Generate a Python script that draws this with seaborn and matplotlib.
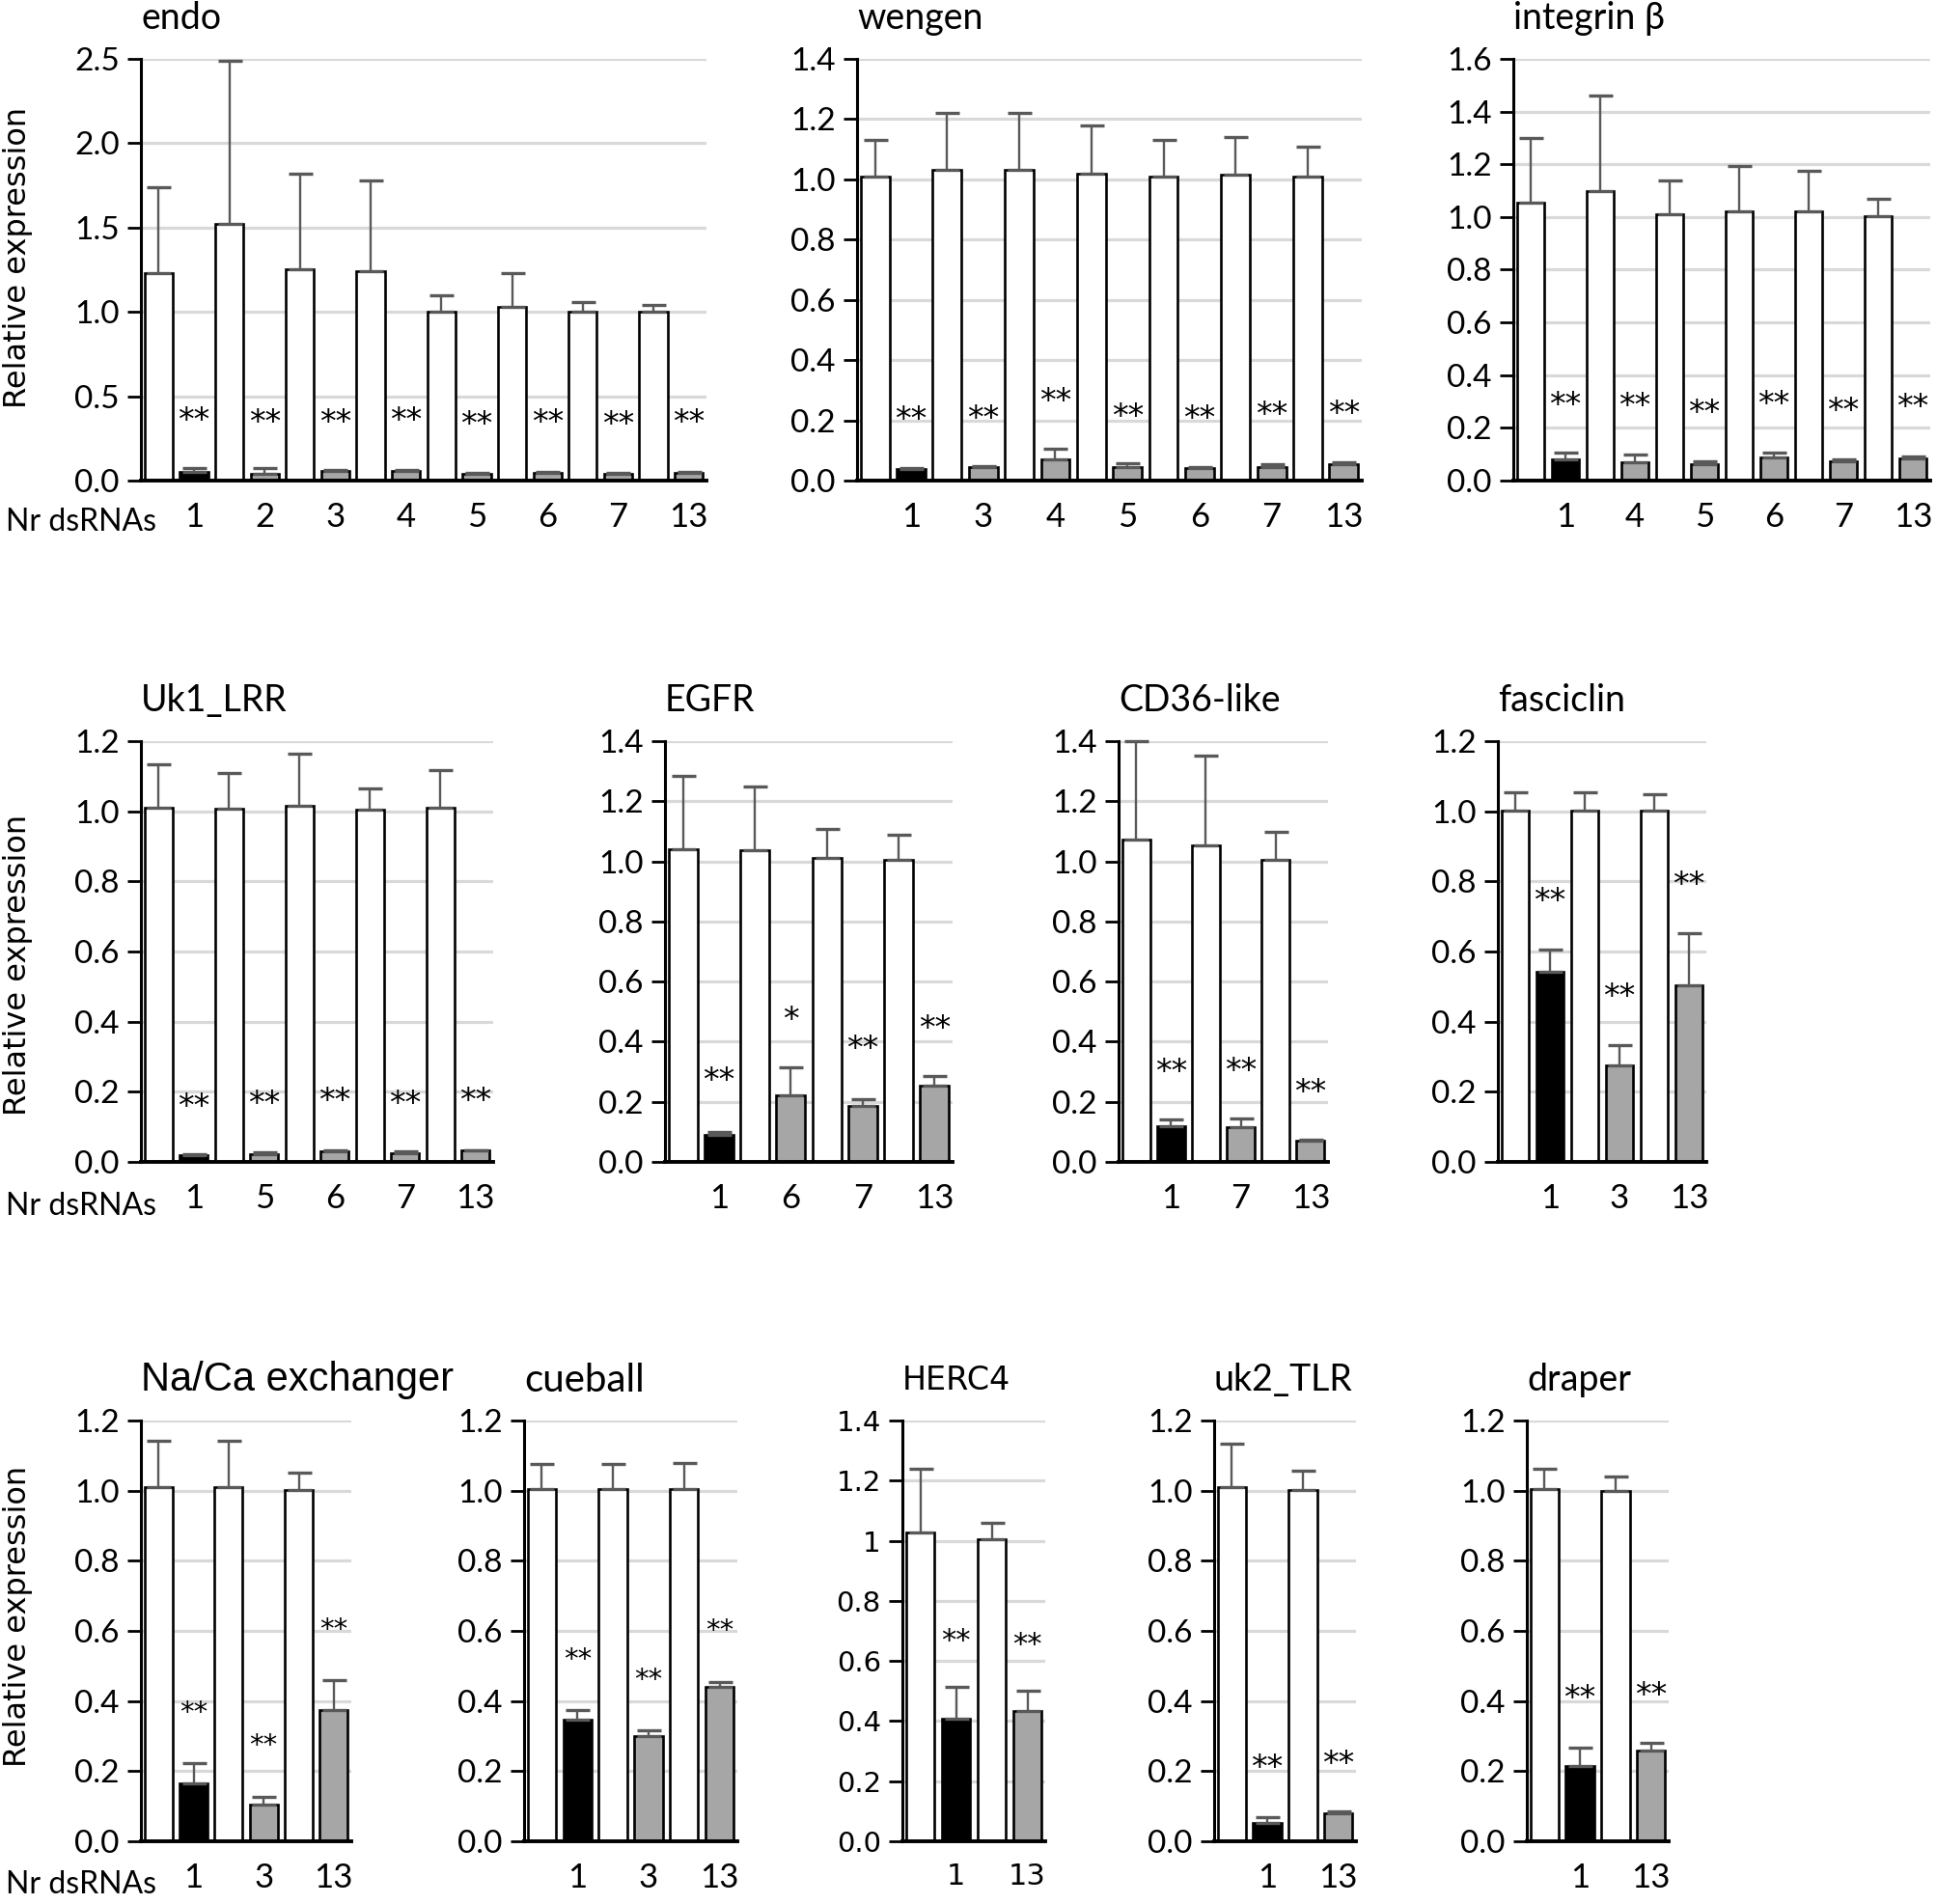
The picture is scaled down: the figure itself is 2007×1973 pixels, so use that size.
import numpy as np
import pandas as pd
import matplotlib
matplotlib.use("Agg")
import matplotlib.pyplot as plt
import seaborn as sns
from matplotlib import font_manager

# ---- data ----
endo_labels = ["1", "2", "3", "4", "5", "6", "7", "13"]
endo_ctrl = [1.23, 1.52, 1.25, 1.24, 1.00, 1.03, 1.00, 1.00]
endo_ctrl_sd = [0.51, 0.97, 0.57, 0.54, 0.10, 0.20, 0.06, 0.04]
endo_trt = [0.05, 0.04, 0.055, 0.055, 0.04, 0.045, 0.04, 0.045]
endo_trt_sd = [0.025, 0.035, 0.01, 0.01, 0.005, 0.005, 0.003, 0.005]
endo_star_y = [0.35, 0.34, 0.34, 0.35, 0.33, 0.34, 0.33, 0.34]

wengen_labels = ["1", "3", "4", "5", "6", "7", "13"]
wengen_ctrl = [1.01, 1.03, 1.03, 1.02, 1.01, 1.015, 1.01]
wengen_ctrl_sd = [0.12, 0.19, 0.19, 0.16, 0.12, 0.125, 0.10]
wengen_trt = [0.037, 0.044, 0.071, 0.045, 0.043, 0.046, 0.054]
wengen_trt_sd = [0.006, 0.004, 0.034, 0.012, 0.002, 0.008, 0.007]
wengen_star_y = [0.20, 0.205, 0.26, 0.21, 0.205, 0.215, 0.22]

integrin_labels = ["1", "4", "5", "6", "7", "13"]
integrin_ctrl = [1.055, 1.10, 1.01, 1.02, 1.02, 1.005]
integrin_ctrl_sd = [0.245, 0.36, 0.13, 0.175, 0.155, 0.065]
integrin_trt = [0.082, 0.068, 0.063, 0.089, 0.072, 0.086]
integrin_trt_sd = [0.024, 0.03, 0.009, 0.017, 0.01, 0.007]
integrin_star_y = [0.285, 0.28, 0.256, 0.286, 0.262, 0.275]

uk1_labels = ["1", "5", "6", "7", "13"]
uk1_ctrl = [1.01, 1.007, 1.015, 1.004, 1.01]
uk1_ctrl_sd = [0.125, 0.103, 0.15, 0.06, 0.108]
uk1_trt = [0.018, 0.022, 0.029, 0.025, 0.032]
uk1_trt_sd = [0.005, 0.005, 0.004, 0.005, 0.002]
uk1_star_y = [0.156, 0.164, 0.171, 0.164, 0.171]

egfr_labels = ["1", "6", "7", "13"]
egfr_ctrl = [1.04, 1.036, 1.01, 1.006]
egfr_ctrl_sd = [0.246, 0.213, 0.097, 0.083]
egfr_trt = [0.089, 0.223, 0.186, 0.254]
egfr_trt_sd = [0.012, 0.091, 0.024, 0.032]
egfr_stars = ["**", "*", "**", "**"]
egfr_star_y = [0.268, 0.472, 0.373, 0.443]

cd36_labels = ["1", "7", "13"]
cd36_ctrl = [1.074, 1.054, 1.005]
cd36_ctrl_sd = [0.326, 0.299, 0.094]
cd36_trt = [0.1185, 0.117, 0.07]
cd36_trt_sd = [0.024, 0.026, 0.004]
cd36_star_y = [0.296, 0.299, 0.231]

fasc_labels = ["1", "3", "13"]
fasc_ctrl = [1.002, 1.002, 1.002]
fasc_ctrl_sd = [0.053, 0.053, 0.046]
fasc_trt = [0.542, 0.275, 0.504]
fasc_trt_sd = [0.064, 0.057, 0.149]
fasc_star_y = [0.743, 0.468, 0.788]

naca_labels = ["1", "3", "13"]
naca_ctrl = [1.011, 1.011, 1.003]
naca_ctrl_sd = [0.13, 0.13, 0.048]
naca_trt = [0.165, 0.104, 0.375]
naca_trt_sd = [0.058, 0.023, 0.085]
naca_star_y = [0.366, 0.272, 0.604]

cue_labels = ["1", "3", "13"]
cue_ctrl = [1.005, 1.005, 1.005]
cue_ctrl_sd = [0.071, 0.071, 0.074]
cue_trt = [0.347, 0.301, 0.439]
cue_trt_sd = [0.026, 0.016, 0.015]
cue_star_y = [0.517, 0.46, 0.60]

herc_labels = ["1", "13"]
herc_ctrl = [1.028, 1.004]
herc_ctrl_sd = [0.211, 0.057]
herc_trt = [0.4085, 0.434]
herc_trt_sd = [0.104, 0.067]
herc_star_y = [0.665, 0.652]
herc_yticklabels = ["0.0", "0.2", "0.4", "0.6", "0.8", "1", "1.2", "1.4"]

uk2_labels = ["1", "13"]
uk2_ctrl = [1.009, 1.002]
uk2_ctrl_sd = [0.125, 0.056]
uk2_trt = [0.052, 0.079]
uk2_trt_sd = [0.018, 0.007]
uk2_star_y = [0.209, 0.219]

draper_labels = ["1", "13"]
draper_ctrl = [1.005, 1.0]
draper_ctrl_sd = [0.058, 0.041]
draper_trt = [0.214, 0.258]
draper_trt_sd = [0.054, 0.024]
draper_star_y = [0.407, 0.415]

# ---- figure setup ----
W, H = 2007, 1973
sns.set_theme(style="white")
names = {f.name for f in font_manager.fontManager.ttflist}
MAIN = "Lato" if "Lato" in names else "Liberation Sans"
plt.rcParams["font.family"] = [MAIN, "DejaVu Sans"]

fig = plt.figure(figsize=(W / 100, H / 100), dpi=100)
fig.patch.set_facecolor("white")

WHITE, BLACK, GREY = "#FFFFFF", "#000000", "#A6A6A6"
ERR = "#595959"
GRIDC = "#D9D9D9"


def fx(px):
    return px / W


def fy(px):
    return 1 - px / H


def panel(title, x0, x1, top, zero, ymax, step, labels, ctrl, ctrl_sd, trt, trt_sd,
          star_y, stars=None, title_font=None, title_size=27, tick_font=None,
          tick_size=24, ylabels=None, star_size=24):
    ax = fig.add_axes([fx(x0), fy(zero), fx(x1 - x0), (zero - top) / H])
    n = len(labels)
    order, vals, sds, pal = [], [], [], {}
    for i in range(n):
        for kind, v, s in (("c", ctrl[i], ctrl_sd[i]), ("t", trt[i], trt_sd[i])):
            key = f"{kind}{i}"
            order.append(key)
            vals.append(v)
            sds.append(s)
            if kind == "c":
                pal[key] = WHITE
            else:
                pal[key] = BLACK if i == 0 else GREY
    df = pd.DataFrame({"slot": order, "value": vals})
    sns.barplot(data=df, x="slot", y="value", hue="slot", order=order, hue_order=order,
                palette=pal, legend=False, width=0.8, edgecolor="black", linewidth=1.9,
                errorbar=None, saturation=1, ax=ax, zorder=2)
    pos = np.arange(2 * n)
    ax.errorbar(pos, vals, yerr=[np.zeros(2 * n), sds], fmt="none", ecolor=ERR,
                elinewidth=1.7, capsize=9, capthick=2.4, zorder=3, clip_on=False)

    ax.set_xlim(-0.5, 2 * n - 0.5)
    ax.set_ylim(0, ymax)
    yt = np.round(np.arange(0, ymax + step / 2, step), 2)
    ax.set_yticks(yt)
    tf = tick_font or MAIN
    if ylabels is None:
        ylabels = [f"{v:.1f}" for v in yt]
    ax.set_yticklabels(ylabels, fontsize=tick_size, family=tf)
    ax.set_xticks(pos[1::2])
    ax.set_xticklabels(labels, fontsize=tick_size + 1, family=tf)
    ax.set_xlabel("")
    ax.set_ylabel("")
    ax.tick_params(axis="x", length=0, pad=16, colors="black")
    ax.tick_params(axis="y", direction="out", length=10, width=2, pad=6, colors="black", left=True)
    ax.yaxis.grid(True, color=GRIDC, linewidth=2.3)
    ax.xaxis.grid(False)
    ax.set_axisbelow(True)
    for side in ("top", "right"):
        ax.spines[side].set_visible(False)
    ax.spines["left"].set_linewidth(2.2)
    ax.spines["bottom"].set_linewidth(2.8)
    ax.spines["left"].set_color("black")
    ax.spines["bottom"].set_color("black")

    if stars is None:
        stars = ["**"] * n
    for i in range(n):
        ax.text(pos[2 * i + 1], star_y[i], stars[i], ha="center", va="center",
                fontsize=star_size, family="DejaVu Sans", color="black")

    fig.text(fx(x0), fy(top - 42), title, ha="left", va="center",
             fontsize=title_size, family=title_font or MAIN, color="black")
    return ax


# row 1
R1 = (61, 498)
panel("endo", 146, 732, *R1, 2.5, 0.5, endo_labels, endo_ctrl, endo_ctrl_sd,
      endo_trt, endo_trt_sd, endo_star_y)
panel("wengen", 888, 1411, *R1, 1.4, 0.2, wengen_labels, wengen_ctrl, wengen_ctrl_sd,
      wengen_trt, wengen_trt_sd, wengen_star_y)
panel("integrin \u03b2", 1568, 2000, *R1, 1.6, 0.2, integrin_labels, integrin_ctrl,
      integrin_ctrl_sd, integrin_trt, integrin_trt_sd, integrin_star_y)

# row 2
R2 = (768, 1204)
panel("Uk1_LRR", 146, 511, *R2, 1.2, 0.2, uk1_labels, uk1_ctrl, uk1_ctrl_sd,
      uk1_trt, uk1_trt_sd, uk1_star_y)
panel("EGFR", 689, 987, *R2, 1.4, 0.2, egfr_labels, egfr_ctrl, egfr_ctrl_sd,
      egfr_trt, egfr_trt_sd, egfr_star_y, stars=egfr_stars)
panel("CD36-like", 1159, 1376, *R2, 1.4, 0.2, cd36_labels, cd36_ctrl, cd36_ctrl_sd,
      cd36_trt, cd36_trt_sd, cd36_star_y)
panel("fasciclin", 1552, 1768, *R2, 1.2, 0.2, fasc_labels, fasc_ctrl, fasc_ctrl_sd,
      fasc_trt, fasc_trt_sd, fasc_star_y)

# row 3
R3 = (1472, 1908)
panel("Na/Ca exchanger", 146, 364, *R3, 1.2, 0.2, naca_labels, naca_ctrl, naca_ctrl_sd,
      naca_trt, naca_trt_sd, naca_star_y, title_font="Liberation Sans", title_size=30,
      star_size=21)
panel("cueball", 543, 764, *R3, 1.2, 0.2, cue_labels, cue_ctrl, cue_ctrl_sd,
      cue_trt, cue_trt_sd, cue_star_y, title_size=29, star_size=21)
panel("HERC4", 935, 1083, *R3, 1.4, 0.2, herc_labels, herc_ctrl, herc_ctrl_sd,
      herc_trt, herc_trt_sd, herc_star_y, title_font="DejaVu Sans", title_size=24,
      tick_font="DejaVu Sans", tick_size=21, ylabels=herc_yticklabels, star_size=22)
panel("uk2_TLR", 1258, 1405, *R3, 1.2, 0.2, uk2_labels, uk2_ctrl, uk2_ctrl_sd,
      uk2_trt, uk2_trt_sd, uk2_star_y)
panel("draper", 1582, 1729, *R3, 1.2, 0.2, draper_labels, draper_ctrl, draper_ctrl_sd,
      draper_trt, draper_trt_sd, draper_star_y)

# shared labels
for yc in (267, 1000, 1675):
    fig.text(fx(19), fy(yc), "Relative expression", rotation=90, ha="center", va="center",
             fontsize=23, family="DejaVu Sans", color="black")
for yc in (541, 1250, 1953):
    fig.text(fx(6), fy(yc), "Nr dsRNAs", ha="left", va="center", fontsize=23,
             family=MAIN, color="black")

fig.savefig("out.png", dpi=100, facecolor="white")
